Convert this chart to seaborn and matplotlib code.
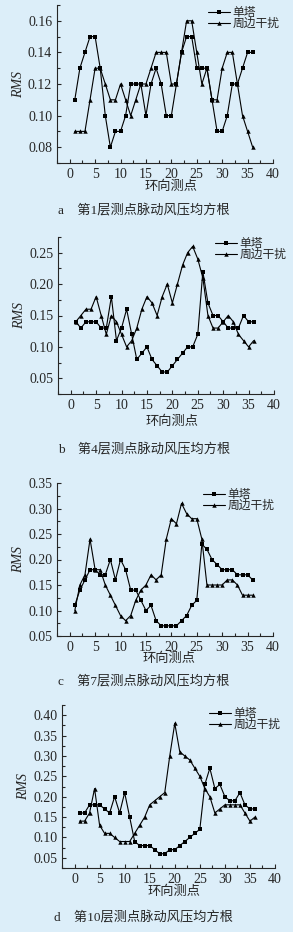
import matplotlib
matplotlib.use('Agg')
import matplotlib.pyplot as plt
from matplotlib.ticker import MultipleLocator, FormatStrFormatter
import pandas as pd
import seaborn as sns

# measuring points around the tower
points = list(range(1, 37))
series_names = ['单塔', '周边干扰']

# layer 1
l1_single = [0.11, 0.13, 0.14, 0.15, 0.15, 0.13, 0.10, 0.08, 0.09, 0.09, 0.10, 0.12,
             0.12, 0.12, 0.10, 0.12, 0.13, 0.12, 0.10, 0.10, 0.12, 0.14, 0.15, 0.15,
             0.13, 0.13, 0.13, 0.11, 0.09, 0.09, 0.10, 0.12, 0.12, 0.13, 0.14, 0.14]
l1_interf = [0.09, 0.09, 0.09, 0.11, 0.13, 0.13, 0.12, 0.11, 0.11, 0.12, 0.11, 0.10,
             0.11, 0.12, 0.12, 0.13, 0.14, 0.14, 0.14, 0.12, 0.12, 0.14, 0.16, 0.16,
             0.14, 0.12, 0.13, 0.11, 0.11, 0.13, 0.14, 0.14, 0.12, 0.10, 0.09, 0.08]

# layer 4
l4_single = [0.14, 0.13, 0.14, 0.14, 0.14, 0.13, 0.13, 0.18, 0.11, 0.13, 0.16, 0.12,
             0.08, 0.09, 0.10, 0.08, 0.07, 0.06, 0.06, 0.07, 0.08, 0.09, 0.10, 0.10,
             0.12, 0.22, 0.17, 0.15, 0.15, 0.14, 0.13, 0.13, 0.13, 0.15, 0.14, 0.14]
l4_interf = [0.14, 0.15, 0.16, 0.16, 0.18, 0.15, 0.12, 0.15, 0.14, 0.12, 0.10, 0.11,
             0.13, 0.16, 0.18, 0.17, 0.15, 0.18, 0.20, 0.17, 0.20, 0.23, 0.25, 0.26,
             0.24, 0.21, 0.15, 0.13, 0.13, 0.14, 0.15, 0.14, 0.12, 0.11, 0.10, 0.11]

# layer 7
l7_single = [0.11, 0.14, 0.16, 0.18, 0.18, 0.17, 0.17, 0.20, 0.16, 0.20, 0.18, 0.14,
             0.14, 0.12, 0.10, 0.11, 0.08, 0.07, 0.07, 0.07, 0.07, 0.08, 0.09, 0.11,
             0.12, 0.23, 0.22, 0.20, 0.19, 0.18, 0.18, 0.18, 0.17, 0.17, 0.17, 0.16]
l7_interf = [0.10, 0.15, 0.17, 0.24, 0.18, 0.18, 0.15, 0.13, 0.11, 0.09, 0.08, 0.09,
             0.12, 0.14, 0.15, 0.17, 0.16, 0.17, 0.24, 0.28, 0.27, 0.31, 0.29, 0.28,
             0.28, 0.24, 0.15, 0.15, 0.15, 0.15, 0.16, 0.16, 0.15, 0.13, 0.13, 0.13]

# layer 10
l10_single = [0.16, 0.16, 0.18, 0.18, 0.18, 0.17, 0.16, 0.20, 0.16, 0.21, 0.15, 0.09,
              0.08, 0.08, 0.08, 0.07, 0.06, 0.06, 0.07, 0.07, 0.08, 0.09, 0.10, 0.11,
              0.12, 0.23, 0.27, 0.22, 0.23, 0.20, 0.19, 0.19, 0.21, 0.18, 0.17, 0.17]
l10_interf = [0.14, 0.14, 0.16, 0.22, 0.13, 0.11, 0.11, 0.10, 0.09, 0.09, 0.09, 0.11,
              0.13, 0.15, 0.18, 0.19, 0.20, 0.21, 0.30, 0.38, 0.31, 0.30, 0.29, 0.27,
              0.25, 0.22, 0.20, 0.16, 0.17, 0.18, 0.18, 0.18, 0.18, 0.16, 0.14, 0.15]

captions = ['a\u2003第1层测点脉动风压均方根', 'b\u2003第4层测点脉动风压均方根',
            'c\u2003第7层测点脉动风压均方根', 'd\u2003第10层测点脉动风压均方根']
ylims = [(0.07, 0.17), (0.025, 0.275), (0.05, 0.35), (0.025, 0.425)]
ytick_steps = [0.02, 0.05, 0.05, 0.05]
ytick_starts = [0.08, 0.05, 0.05, 0.05]

bg = '#DCEEF9'
W, H = 293, 932

sns.set_style('ticks')
plt.rcParams['font.family'] = ['Liberation Serif', 'Noto Sans CJK SC']
plt.rcParams['axes.linewidth'] = 0.8

fig = plt.figure(figsize=(W / 100, H / 100), dpi=100, facecolor=bg)

# axes boxes in pixels: left, top, right, bottom
boxes = [(57, 5, 273, 163), (58, 237, 274, 394), (57, 483, 273, 636), (62, 705, 275, 868)]
legend_pos = [(208, 7), (215, 238), (203, 489), (209, 708)]
xlabel_pos = [(171, 187), (172, 422), (169, 659), (174, 892)]
caption_y = [211, 450, 682, 918]

panels = [(l1_single, l1_interf), (l4_single, l4_interf),
          (l7_single, l7_interf), (l10_single, l10_interf)]

for i, (single, interf) in enumerate(panels):
    l, t, r, b = boxes[i]
    ax = fig.add_axes([l / W, 1 - b / H, (r - l) / W, (b - t) / H])
    ax.set_facecolor(bg)

    df = pd.DataFrame({
        '测点': points * 2,
        'RMS': single + interf,
        '工况': [series_names[0]] * 36 + [series_names[1]] * 36,
    })
    sns.lineplot(data=df, x='测点', y='RMS', hue='工况', style='工况',
                 palette=['black', 'black'], markers=['s', '^'], dashes=False,
                 markersize=3.2, markeredgewidth=0, linewidth=0.8, ax=ax)

    ax.set_xlim(-2.5, 40)
    ax.xaxis.set_major_locator(MultipleLocator(5))
    ax.xaxis.set_minor_locator(MultipleLocator(2.5))
    step = ytick_steps[i]
    ax.set_yticks([round(ytick_starts[i] + k * step, 3) for k in range(20)
                   if ytick_starts[i] + k * step <= ylims[i][1] + 1e-9])
    ax.yaxis.set_minor_locator(MultipleLocator(step / 2))
    ax.yaxis.set_major_formatter(FormatStrFormatter('%.2f'))
    ax.set_ylim(*ylims[i])
    ax.tick_params(which='both', direction='in', labelsize=10, width=0.8)
    ax.tick_params(which='major', length=3)
    ax.tick_params(which='minor', length=2.5)
    sns.despine(ax=ax)

    ax.set_xlabel('')
    ax.set_ylabel('RMS', fontsize=10, style='italic', labelpad=2)

    lx, ly = legend_pos[i]
    ax.legend(loc='upper left', bbox_to_anchor=(lx / W, 1 - ly / H),
              bbox_transform=fig.transFigure, frameon=False,
              fontsize=8.5, handlelength=1.9, handletextpad=0.2,
              labelspacing=-0.1, borderpad=0, borderaxespad=0)

    xx, xy = xlabel_pos[i]
    fig.text(xx / W, 1 - xy / H, '环向测点', ha='center', va='center', fontsize=9.5)
    fig.text(144 / W, 1 - caption_y[i] / H, captions[i], ha='center', va='center', fontsize=9.5)

fig.savefig('out.png', dpi=100, facecolor=bg)
